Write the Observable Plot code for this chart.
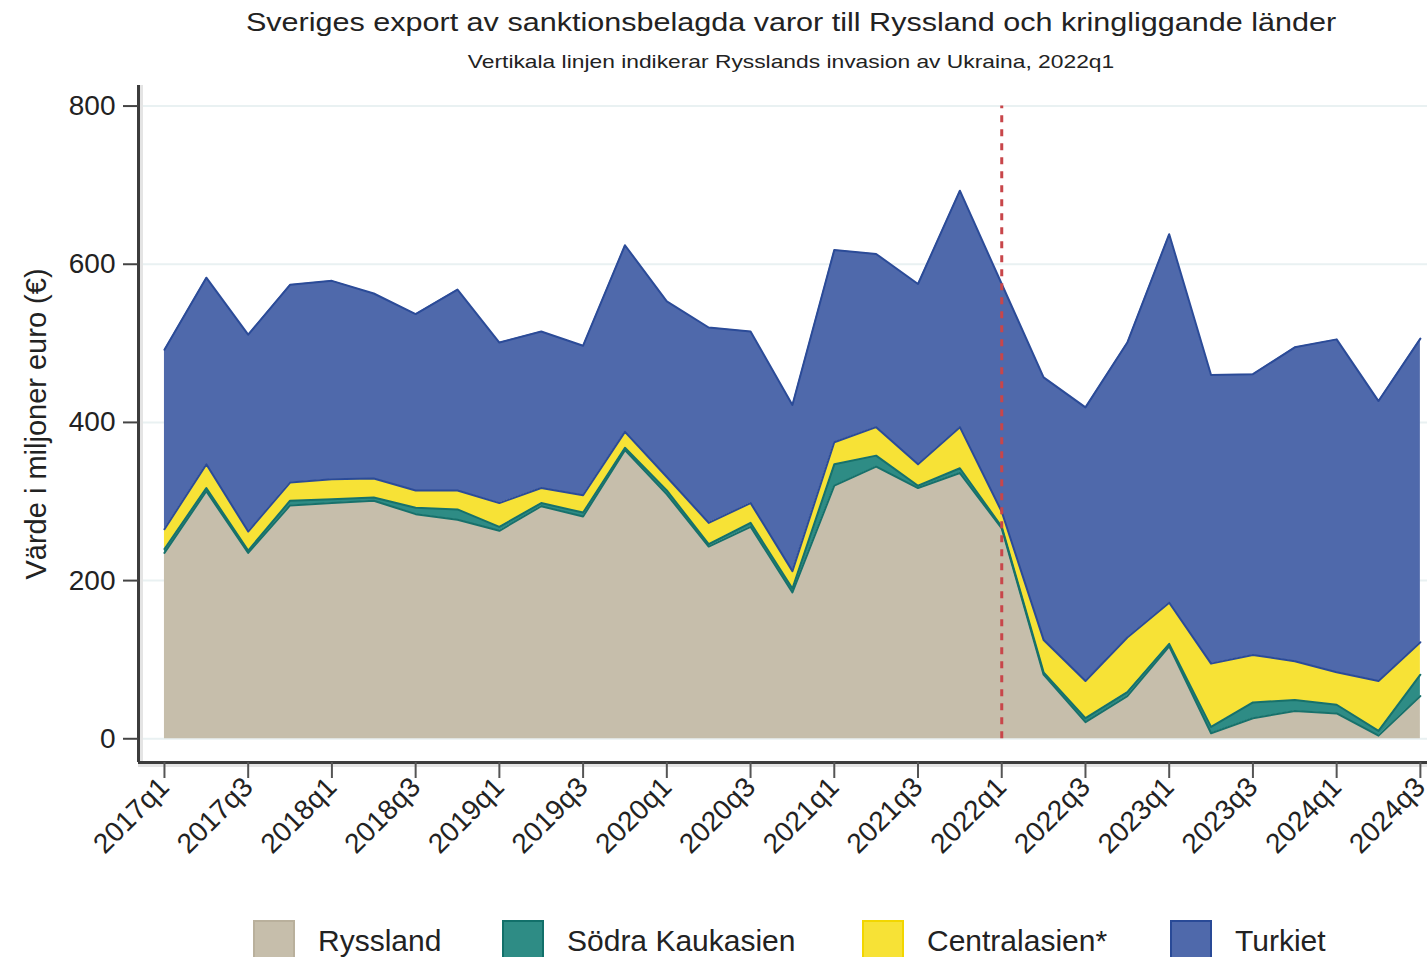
<!DOCTYPE html>
<html>
<head>
<meta charset="utf-8">
<script src="https://cdn.jsdelivr.net/npm/d3@7"></script>
<script src="https://cdn.jsdelivr.net/npm/@observablehq/plot@0.6"></script>
<style>
  html, body { margin: 0; padding: 0; background: #fff; }
  #wrap { position: relative; width: 1427px; height: 957px; overflow: hidden; font-family: "Liberation Sans", Arial, sans-serif; color: #222; }
  .title { position: absolute; left: 791px; white-space: nowrap; line-height: 1; }
  #t1 { top: 9px; font-size: 26px; transform: translateX(-50%) scaleX(1.175); }
  #t2 { top: 52px; font-size: 19px; transform: translateX(-50%) scaleX(1.2); }
  #chart { position: absolute; left: 0; top: 80px; }
  .item { position: absolute; top: 920px; display: flex; align-items: center; }
  .sw { width: 42px; height: 42px; box-sizing: border-box; border: 2px solid; margin-right: 23px; }
  .lab { font-size: 30px; line-height: 1; white-space: nowrap; }
</style>
</head>
<body>
<div id="wrap">
  <div class="title" id="t1"></div>
  <div class="title" id="t2"></div>
  <div id="chart"></div>
</div>
<script>
const titleText = "Sveriges export av sanktionsbelagda varor till Ryssland och kringliggande länder";
const subtitleText = "Vertikala linjen indikerar Rysslands invasion av Ukraina, 2022q1";
const yLabel = "Värde i miljoner euro (€)";

const quarters = ["2017q1","2017q2","2017q3","2017q4","2018q1","2018q2","2018q3","2018q4",
  "2019q1","2019q2","2019q3","2019q4","2020q1","2020q2","2020q3","2020q4",
  "2021q1","2021q2","2021q3","2021q4","2022q1","2022q2","2022q3","2022q4",
  "2023q1","2023q2","2023q3","2023q4","2024q1","2024q2","2024q3"];
const invasionQuarter = "2022q1";

const seriesNames = ["Ryssland", "Södra Kaukasien", "Centralasien*", "Turkiet"];
const ryssland     = [235,313,235,295,298,301,284,277,263,294,281,365,309,243,268,185,320,344,317,336,266,81,21,54,117,7,26,35,32,4,54];
const kaukasien    = [5,4,3,6,5,4,8,13,5,4,5,3,5,3,5,5,27,14,3,6,2,3,5,5,3,8,20,14,11,6,27];
const centralasien = [25,30,24,23,25,24,22,24,30,19,22,20,17,27,25,22,28,36,27,52,19,41,47,69,52,80,60,49,41,63,41];
const turkiet      = [227,236,249,250,251,234,223,254,203,198,189,236,222,247,217,210,243,219,228,299,288,332,346,373,466,365,355,397,421,354,384];

const yTicks = [0, 200, 400, 600, 800];
const xTickQuarters = ["2017q1","2017q3","2018q1","2018q3","2019q1","2019q3","2020q1","2020q3",
  "2021q1","2021q3","2022q1","2022q3","2023q1","2023q3","2024q1","2024q3"];

const fillColors   = ["#c6beab", "#2e8c85", "#f7e236", "#4f69ab"];
const borderColors = ["#b9b09c", "#12706a", "#f2d600", "#294a97"];
const legendLefts  = [253, 502, 862, 1170];

const valuesBySeries = [ryssland, kaukasien, centralasien, turkiet];
const data = [];
seriesNames.forEach((s, k) => {
  valuesBySeries[k].forEach((v, i) => data.push({i, quarter: quarters[i], series: s, value: v}));
});

// outline colour keys for the boundary on top of each stacked layer
const lineKey = {"Ryssland": "L-Ryssland", "Södra Kaukasien": "L-Kaukasien", "Centralasien*": "L-Central", "Turkiet": "L-Turkiet"};
const colorDomain = [...seriesNames, "L-Ryssland", "L-Kaukasien", "L-Central", "L-Turkiet"];
const colorRange = [...fillColors, "#17716b", "#17716b", "#2b4b98", "#2b4b98"];

const xDomain = [-0.62, 30.17];
const yDomain = [-30, 826];

document.getElementById("t1").textContent = titleText;
document.getElementById("t2").textContent = subtitleText;

const chart = Plot.plot({
  width: 1427,
  height: 800,
  marginLeft: 138,
  marginRight: 0,
  marginTop: 5,
  marginBottom: 118,
  style: {fontFamily: '"Liberation Sans", Arial, sans-serif', color: "#222", background: "white", overflow: "visible"},
  x: {type: "linear", domain: xDomain},
  y: {domain: yDomain},
  color: {domain: colorDomain, range: colorRange},
  marks: [
    Plot.ruleY(yTicks, {stroke: "#e9f1f2", strokeWidth: 2}),
    Plot.ruleX([xDomain[0]], {stroke: "#e4e4e4", strokeWidth: 3, dx: 3}),
    Plot.ruleY([yDomain[0]], {stroke: "#e4e4e4", strokeWidth: 3, dy: 3}),
    Plot.areaY(data, Plot.stackY({x: "i", y: "value", z: "series", fill: "series", curve: "linear"})),
    Plot.lineY(data, Plot.stackY2({x: "i", y: "value", z: "series", stroke: d => lineKey[d.series], strokeWidth: 2, curve: "linear"})),
    Plot.ruleX([quarters.indexOf(invasionQuarter)], {y1: yTicks[0], y2: yTicks[yTicks.length - 1], stroke: "#c8464a", strokeWidth: 3, strokeDasharray: "7,7"}),
    Plot.ruleX([xDomain[0]], {stroke: "#3c3c3c", strokeWidth: 3}),
    Plot.ruleY([yDomain[0]], {stroke: "#3c3c3c", strokeWidth: 3}),
    Plot.axisY({ticks: yTicks, tickSize: 15, tickPadding: 8, fontSize: 28, label: null, stroke: "#444", strokeWidth: 2}),
    Plot.axisX({ticks: xTickQuarters.map(q => quarters.indexOf(q)), tickFormat: i => quarters[i], tickRotate: -45, tickSize: 16, tickPadding: 4, fontSize: 28, label: null, stroke: "#555", strokeWidth: 2}),
    Plot.text([yLabel], {frameAnchor: "left", textAnchor: "middle", rotate: -90, dx: -102, fontSize: 29, fill: "#222"})
  ]
});
document.getElementById("chart").appendChild(chart);

const wrap = document.getElementById("wrap");
seriesNames.forEach((s, k) => {
  const item = document.createElement("div");
  item.className = "item";
  item.style.left = legendLefts[k] + "px";
  const sw = document.createElement("div");
  sw.className = "sw";
  sw.style.background = fillColors[k];
  sw.style.borderColor = borderColors[k];
  const lab = document.createElement("span");
  lab.className = "lab";
  lab.textContent = s;
  item.appendChild(sw);
  item.appendChild(lab);
  wrap.appendChild(item);
});
</script>
</body>
</html>
